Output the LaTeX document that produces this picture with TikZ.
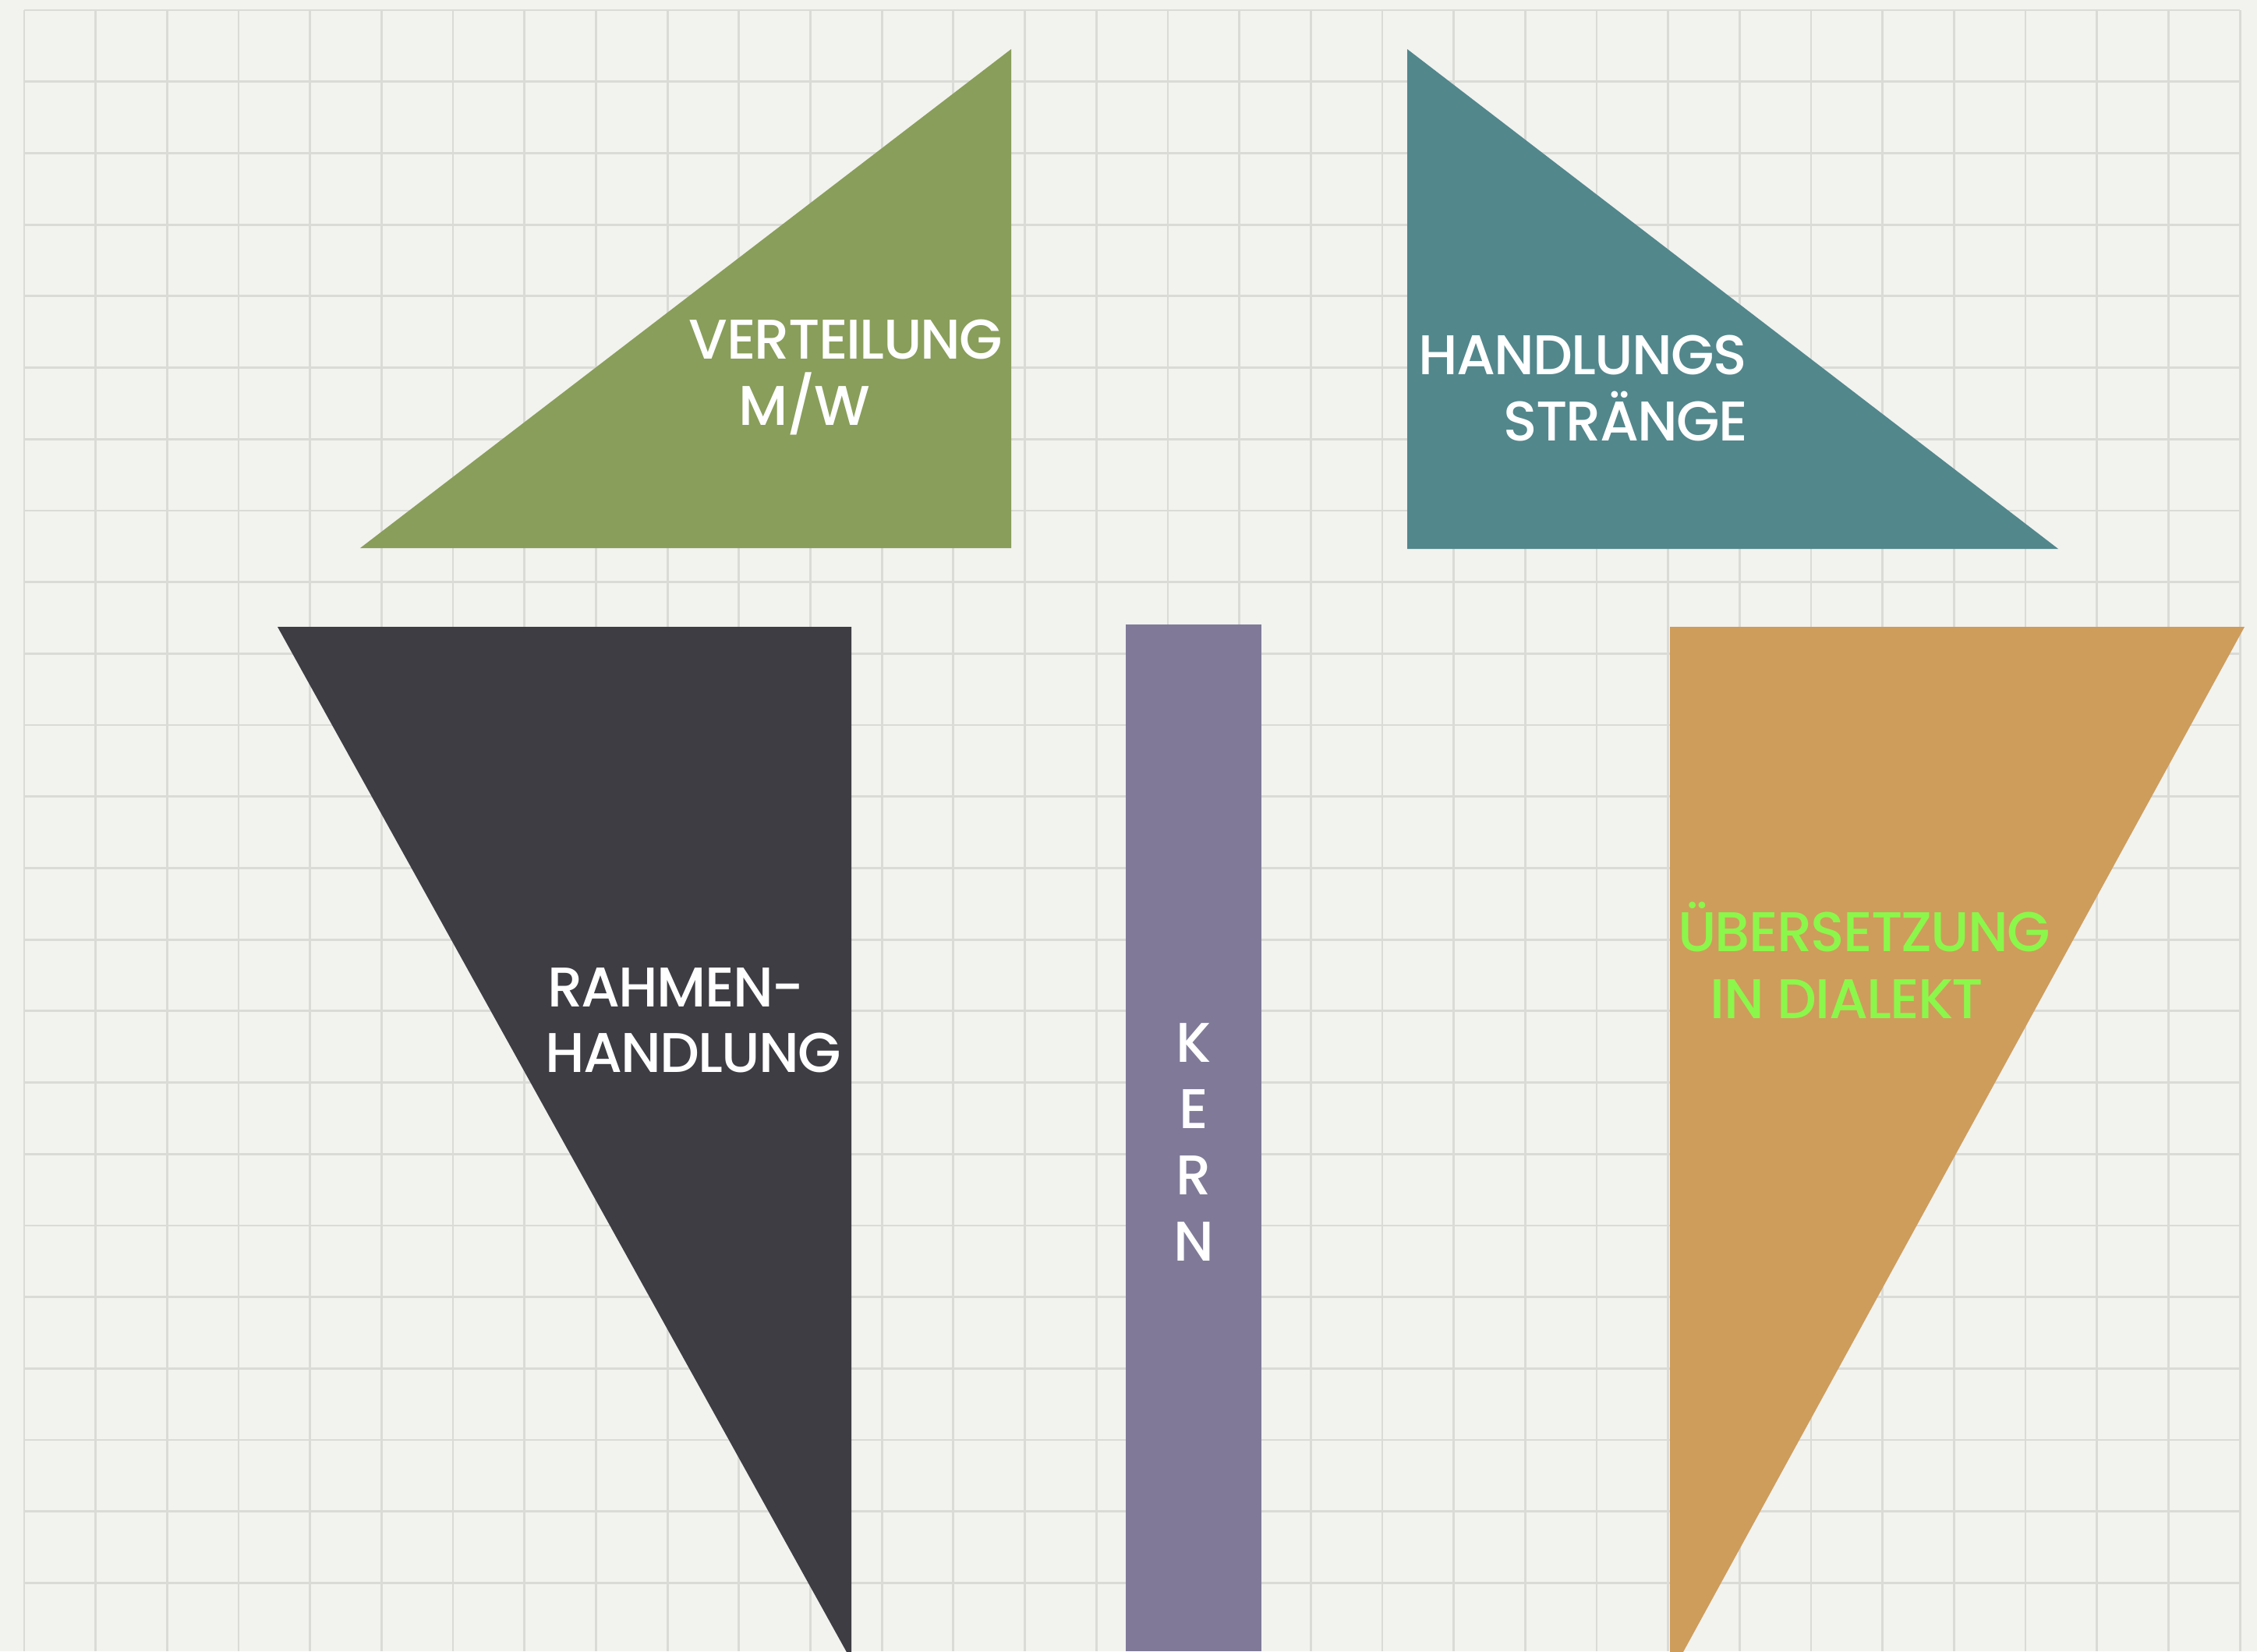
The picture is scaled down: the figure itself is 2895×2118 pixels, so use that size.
\documentclass[tikz,border=0pt]{standalone}
\usepackage{fontspec}
\setmainfont{Poppins Medium}[LetterSpace = -2.5]
\usetikzlibrary{positioning}
\definecolor{paper}{HTML}{F2F2EF}
\definecolor{gridgray}{HTML}{DADAD7}
\definecolor{mossgreen}{HTML}{899E5A}
\definecolor{teal}{HTML}{52878C}
\definecolor{slate}{HTML}{3E3D44}
\definecolor{lavender}{HTML}{807A98}
\definecolor{ochre}{HTML}{CE9D5B}
\definecolor{neon}{HTML}{8BF74A}
\tikzset{gridline/.style = {draw = gridgray, line width = 0.8pt},
  caption/.style = {text = white, inner sep = 0pt, anchor = base,
    font = \fontsize{20.4}{24.2}\selectfont}}

\begin{document}
\begin{tikzpicture}[x = 0.01cm, y = -0.01cm]
    \useasboundingbox (0,0) rectangle (2895,2118);
    \fill [paper] (0,0) rectangle (2895,2118);
    % grid
    \foreach \i in {0,...,31}
      \draw [gridline] (31+91.68*\i,13) -- (31+91.68*\i,2118);
    \foreach \j in {0,...,22}
      \draw [gridline] (31,13+91.7*\j) -- (2873,13+91.7*\j);
    % shapes
    \fill [mossgreen] (462,703) -- (1297,63) -- (1297,703) -- cycle;
    \fill [teal] (1805,63) -- (1805,704) -- (2640,704) -- cycle;
    \fill [slate] (356,804) -- (1092,804) -- (1092,2130) -- cycle;
    \fill [lavender] (1444,801) rectangle (1618,2118);
    \fill [ochre] (2142,804) -- (2879,804) -- (2142,2150) -- cycle;
    % labels
    \node [caption] (verteilung) at (1085,460) {VERTEILUNG};
    \node [caption] (mw) at (1032,545) {M/W};
    \node [caption] (handlungs) at (2030,480) {HANDLUNGS};
    \node [caption] (straenge) at (2085,565) {STRÄNGE};
    \node [caption] (rahmen) at (867,1291) {RAHMEN-};
    \node [caption] (handlung) at (889,1375) {HANDLUNG};
    \node [caption, anchor = center, align = center] (kern) at (1531,1465) {K\\E\\R\\N};
    \node [caption, text = neon] (uebersetzung) at (2391,1220) {ÜBERSETZUNG};
    \node [caption, text = neon] (dialekt) at (2369,1306) {IN DIALEKT};
\end{tikzpicture}
\end{document}
